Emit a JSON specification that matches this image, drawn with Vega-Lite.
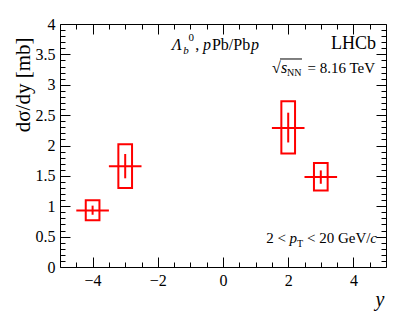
{
  "$schema": "https://vega.github.io/schema/vega-lite/v6.json",
  "width": 326,
  "height": 243,
  "autosize": {"type": "none"},
  "padding": {"left": 60, "top": 24, "right": 21, "bottom": 55},
  "background": "white",
  "config": {
    "view": {"stroke": "black", "strokeWidth": 1},
    "font": "Liberation Serif",
    "axis": {"domain": false, "grid": false, "ticks": true, "zindex": 1, "tickColor": "black", "tickWidth": 1, "tickOpacity": 1, "labelColor": "black", "labelFont": "Liberation Serif", "labelFontSize": 16, "titleColor": "black", "titleFont": "Liberation Serif", "titleFontWeight": "normal"},
    "axisQuantitative": {"ticks": true, "tickColor": "black", "tickWidth": 1, "tickOpacity": 1},
    "axisX": {"ticks": true, "tickColor": "black", "tickWidth": 1, "tickOpacity": 1},
    "axisY": {"ticks": true, "tickColor": "black", "tickWidth": 1, "tickOpacity": 1}
  },
  "resolve": {"axis": {"x": "independent", "y": "independent"}},
  "datasets": {
    "pts": [
      {"y_rap": -4, "xs": 0.93, "xlo": -4.5, "xhi": -3.5, "stat_lo": 0.86, "stat_hi": 1.01, "sys_lo": 0.77, "sys_hi": 1.10, "box_lo": -4.21, "box_hi": -3.79},
      {"y_rap": -3, "xs": 1.66, "xlo": -3.5, "xhi": -2.5, "stat_lo": 1.46, "stat_hi": 1.86, "sys_lo": 1.30, "sys_hi": 2.02, "box_lo": -3.21, "box_hi": -2.79},
      {"y_rap": 2, "xs": 2.29, "xlo": 1.5, "xhi": 2.5, "stat_lo": 2.05, "stat_hi": 2.54, "sys_lo": 1.87, "sys_hi": 2.73, "box_lo": 1.79, "box_hi": 2.21},
      {"y_rap": 3, "xs": 1.48, "xlo": 2.5, "xhi": 3.5, "stat_lo": 1.37, "stat_hi": 1.59, "sys_lo": 1.26, "sys_hi": 1.71, "box_lo": 2.79, "box_hi": 3.21}
    ]
  },
  "layer": [
    {
      "data": {"name": "pts"},
      "mark": {"type": "rect", "fillOpacity": 0, "stroke": "#ff0000", "strokeWidth": 2},
      "encoding": {
        "x": {"field": "box_lo", "type": "quantitative", "scale": {"domain": [-5, 5], "nice": false, "zero": false},
          "axis": {"orient": "bottom", "values": [-4, -2, 0, 2, 4], "format": "~g", "ticks": false,
            "labelFont": "Liberation Serif", "labelFontSize": 16,
            "labelPadding": 5, "title": "y", "titleFontStyle": "italic", "titleFontSize": 20, "titleAnchor": "end", "titleAlign": "right", "titleX": 324, "titleY": 38, "titleBaseline": "alphabetic"}},
        "x2": {"field": "box_hi"},
        "y": {"field": "sys_lo", "type": "quantitative", "scale": {"domain": [0, 4], "nice": false},
          "axis": {"orient": "left", "values": [0, 0.5, 1, 1.5, 2, 2.5, 3, 3.5, 4], "format": "~g", "ticks": false,
            "labelFont": "Liberation Serif", "labelFontSize": 16,
            "labelPadding": 5, "title": "dσ/dy [mb]", "titleFontSize": 21, "titleAnchor": "end", "titleAlign": "right", "titleAngle": 270, "titleX": -31, "titleY": 13, "titleBaseline": "alphabetic"}},
        "y2": {"field": "sys_hi"}
      }
    },
    {
      "data": {"name": "pts"},
      "mark": {"type": "rule", "color": "#ff0000", "strokeWidth": 2},
      "encoding": {
        "x": {"field": "xlo", "type": "quantitative",
          "axis": {"orient": "top", "offset": -243, "values": [-4, -2, 0, 2, 4], "labels": false, "title": null, "ticks": true, "tickColor": "black", "tickWidth": 1, "tickOpacity": 1, "tickSize": 10}},
        "x2": {"field": "xhi"},
        "y": {"field": "xs", "type": "quantitative",
          "axis": {"orient": "right", "offset": -326, "values": [0, 0.5, 1, 1.5, 2, 2.5, 3, 3.5, 4], "labels": false, "title": null, "ticks": true, "tickColor": "black", "tickWidth": 1, "tickOpacity": 1, "tickSize": 10}}
      }
    },
    {
      "data": {"name": "pts"},
      "mark": {"type": "rule", "color": "#ff0000", "strokeWidth": 2},
      "encoding": {
        "x": {"field": "y_rap", "type": "quantitative",
          "axis": {"orient": "top", "offset": -243, "values": [-4.5, -3.5, -3, -2.5, -1.5, -1, -0.5, 0.5, 1, 1.5, 2.5, 3, 3.5, 4.5], "labels": false, "title": null, "ticks": true, "tickColor": "black", "tickWidth": 1, "tickOpacity": 1, "tickSize": 5}},
        "y": {"field": "stat_lo", "type": "quantitative",
          "axis": {"orient": "right", "offset": -326, "values": [0.1, 0.2, 0.3, 0.4, 0.6, 0.7, 0.8, 0.9, 1.1, 1.2, 1.3, 1.4, 1.6, 1.7, 1.8, 1.9, 2.1, 2.2, 2.3, 2.4, 2.6, 2.7, 2.8, 2.9, 3.1, 3.2, 3.3, 3.4, 3.6, 3.7, 3.8, 3.9], "labels": false, "title": null, "ticks": true, "tickColor": "black", "tickWidth": 1, "tickOpacity": 1, "tickSize": 5}},
        "y2": {"field": "stat_hi"}
      }
    },
    {
      "data": {"values": [
        {"x": -1.564, "y": 3.572, "t": "Λ"},
        {"x": -0.61, "y": 3.572, "t": "p"},
        {"x": 0.86, "y": 3.572, "t": "p"},
        {"x": 1.779, "y": 3.193, "t": "s"}
      ]},
      "mark": {"type": "text", "font": "Liberation Serif", "fontSize": 16, "fontStyle": "italic", "align": "left", "baseline": "alphabetic", "color": "black"},
      "encoding": {
        "x": {"field": "x", "type": "quantitative",
          "axis": {"orient": "bottom", "offset": -243, "values": [-4, -2, 0, 2, 4], "labels": false, "title": null, "ticks": true, "tickColor": "black", "tickWidth": 1, "tickOpacity": 1, "tickSize": 10}},
        "y": {"field": "y", "type": "quantitative",
          "axis": {"orient": "left", "offset": -326, "values": [0, 0.5, 1, 1.5, 2, 2.5, 3, 3.5, 4], "labels": false, "title": null, "ticks": true, "tickColor": "black", "tickWidth": 1, "tickOpacity": 1, "tickSize": 10}},
        "text": {"field": "t"}
      }
    },
    {
      "data": {"values": [
        {"x": -0.85, "y": 3.572, "t": ","},
        {"x": -0.34, "y": 3.572, "t": "Pb/Pb"},
        {"x": 1.503, "y": 3.193, "t": "√"}
      ]},
      "mark": {"type": "text", "font": "Liberation Serif", "fontSize": 16, "align": "left", "baseline": "alphabetic", "color": "black"},
      "encoding": {
        "x": {"field": "x", "type": "quantitative",
          "axis": {"orient": "bottom", "offset": -243, "values": [-4.5, -3.5, -3, -2.5, -1.5, -1, -0.5, 0.5, 1, 1.5, 2.5, 3, 3.5, 4.5], "labels": false, "title": null, "ticks": true, "tickColor": "black", "tickWidth": 1, "tickOpacity": 1, "tickSize": 5}},
        "y": {"field": "y", "type": "quantitative",
          "axis": {"orient": "left", "offset": -326, "values": [0.1, 0.2, 0.3, 0.4, 0.6, 0.7, 0.8, 0.9, 1.1, 1.2, 1.3, 1.4, 1.6, 1.7, 1.8, 1.9, 2.1, 2.2, 2.3, 2.4, 2.6, 2.7, 2.8, 2.9, 3.1, 3.2, 3.3, 3.4, 3.6, 3.7, 3.8, 3.9], "labels": false, "title": null, "ticks": true, "tickColor": "black", "tickWidth": 1, "tickOpacity": 1, "tickSize": 5}},
        "text": {"field": "t"}
      }
    },
    {
      "data": {"values": [
        {"x": 4.663, "y": 3.193, "t": "= 8.16 TeV"},
        {"x": 4.525, "y": 0.395, "t": "< 20 GeV/"},
        {"x": 1.933, "y": 0.395, "t": "2 <"}
      ]},
      "mark": {"type": "text", "font": "Liberation Serif", "fontSize": 15, "align": "right", "baseline": "alphabetic", "color": "black"},
      "encoding": {
        "x": {"field": "x", "type": "quantitative", "axis": null},
        "y": {"field": "y", "type": "quantitative", "axis": null},
        "text": {"field": "t"}
      }
    },
    {
      "data": {"values": [
        {"x": 4.724, "y": 0.395, "t": "c"},
        {"x": 2.270, "y": 0.395, "t": "p"}
      ]},
      "mark": {"type": "text", "font": "Liberation Serif", "fontSize": 15, "fontStyle": "italic", "align": "right", "baseline": "alphabetic", "color": "black"},
      "encoding": {
        "x": {"field": "x", "type": "quantitative", "axis": null},
        "y": {"field": "y", "type": "quantitative", "axis": null},
        "text": {"field": "t"}
      }
    },
    {
      "data": {"values": [
        {"x": -1.22, "y": 3.506, "t": "b"}
      ]},
      "mark": {"type": "text", "font": "Liberation Serif", "fontSize": 11, "fontStyle": "italic", "align": "left", "baseline": "alphabetic", "color": "black"},
      "encoding": {
        "x": {"field": "x", "type": "quantitative", "axis": null},
        "y": {"field": "y", "type": "quantitative", "axis": null},
        "text": {"field": "t"}
      }
    },
    {
      "data": {"values": [
        {"x": -1.06, "y": 3.72, "t": "0"}
      ]},
      "mark": {"type": "text", "font": "Liberation Serif", "fontSize": 11, "align": "left", "baseline": "alphabetic", "color": "black"},
      "encoding": {
        "x": {"field": "x", "type": "quantitative", "axis": null},
        "y": {"field": "y", "type": "quantitative", "axis": null},
        "text": {"field": "t"}
      }
    },
    {
      "data": {"values": [
        {"x": 1.963, "y": 3.144, "t": "NN"},
        {"x": 2.270, "y": 0.329, "t": "T"}
      ]},
      "mark": {"type": "text", "font": "Liberation Serif", "fontSize": 10, "align": "left", "baseline": "alphabetic", "color": "black"},
      "encoding": {
        "x": {"field": "x", "type": "quantitative", "axis": null},
        "y": {"field": "y", "type": "quantitative", "axis": null},
        "text": {"field": "t"}
      }
    },
    {
      "data": {"values": [
        {"x": 4.693, "y": 3.588, "t": "LHCb"}
      ]},
      "mark": {"type": "text", "font": "Liberation Serif", "fontSize": 18, "align": "right", "baseline": "alphabetic", "color": "black"},
      "encoding": {
        "x": {"field": "x", "type": "quantitative", "axis": null},
        "y": {"field": "y", "type": "quantitative", "axis": null},
        "text": {"field": "t"}
      }
    },
    {
      "data": {"values": [
        {"x": 1.748, "x2": 2.423, "y": 3.424}
      ]},
      "mark": {"type": "rule", "color": "black", "strokeWidth": 1},
      "encoding": {
        "x": {"field": "x", "type": "quantitative", "axis": null},
        "x2": {"field": "x2"},
        "y": {"field": "y", "type": "quantitative", "axis": null}
      }
    }
  ]
}
